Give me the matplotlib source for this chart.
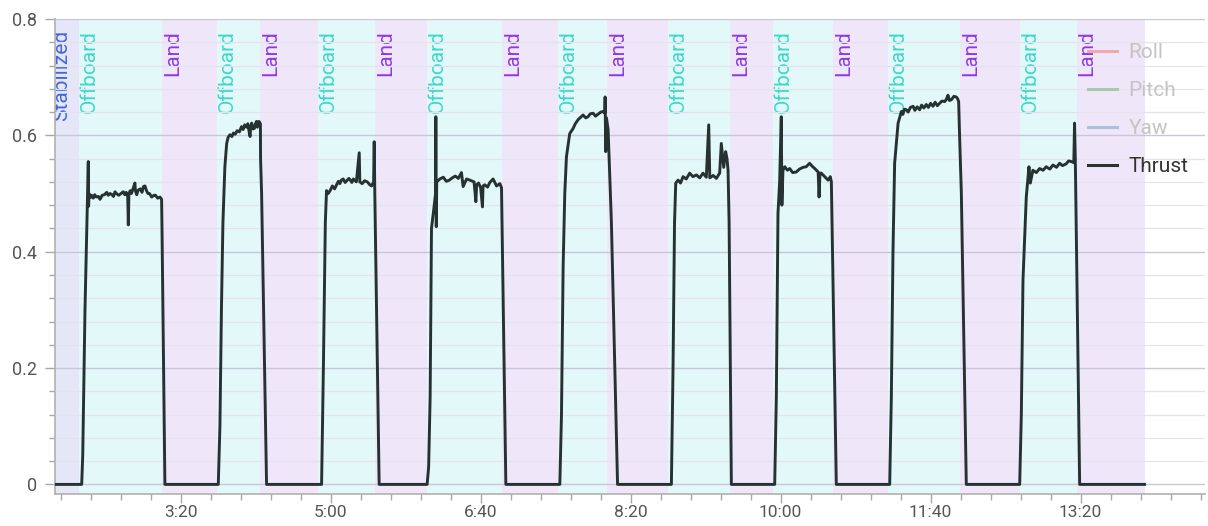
import matplotlib
matplotlib.use("Agg")
import matplotlib.pyplot as plt
from matplotlib.lines import Line2D
from matplotlib.ticker import FuncFormatter, MultipleLocator

plt.rcParams["font.family"] = ["Roboto", "DejaVu Sans"]

# x limits in seconds of log time
T_MIN = 116
T_MAX = 883
LOG_END = 842.7

# flight mode changes (start time, name)
mode_starts = [100, 132, 187.3, 224, 252.7, 291.3, 329.3, 364, 414, 451.3,
               484, 524.7, 566, 594.7, 634.7, 671.3, 719.3, 759.3, 797.3]
mode_names = ["Stabilized", "Offboard", "Land", "Offboard", "Land", "Offboard",
              "Land", "Offboard", "Land", "Offboard", "Land", "Offboard", "Land",
              "Offboard", "Land", "Offboard", "Land", "Offboard", "Land"]

# thrust, one list per offboard flight (seconds, normalised thrust)
flight1_t = [133.8, 134.5, 136.0, 137.6, 138.2, 138.4, 138.7, 139.5, 140.4, 141.5, 142.5,
             143.5, 145.0, 146.0, 147.5, 149.0, 150.5, 151.5, 152.7, 154.0, 155.0, 156.0,
             157.0, 158.5, 160.0, 161.5, 162.5, 163.5, 164.5, 164.9, 165.3, 166.2, 167.0,
             168.0, 169.3, 169.6, 170.5, 171.5, 173.0, 174.0, 175.0, 176.0, 177.0, 178.0,
             179.0, 180.5, 182.0, 183.0, 184.5, 186.0, 187.1, 187.4, 189.3]
flight1_v = [0, 0.05, 0.30, 0.49, 0.555, 0.478, 0.50, 0.493, 0.497, 0.492, 0.498,
             0.494, 0.495, 0.49, 0.497, 0.498, 0.502, 0.497, 0.50, 0.498, 0.495, 0.503,
             0.50, 0.497, 0.50, 0.503, 0.498, 0.502, 0.495, 0.446, 0.50, 0.505, 0.50,
             0.508, 0.518, 0.505, 0.498, 0.506, 0.508, 0.502, 0.512, 0.513, 0.505, 0.50,
             0.50, 0.494, 0.497, 0.497, 0.492, 0.494, 0.49, 0.433, 0]

flight2_t = [224.9, 226.0, 227.0, 228.0, 229.3, 230.5, 231.5, 232.7, 234.0, 235.0, 236.2,
             237.5, 239.0, 240.4, 241.5, 242.5, 243.7, 244.6, 245.5, 246.1, 246.5, 247.2,
             248.1, 249.0, 249.7, 250.4, 251.0, 251.5, 252.0, 252.5, 253.0, 253.1, 253.8,
             257.1]
flight2_v = [0, 0.10, 0.30, 0.45, 0.546, 0.586, 0.597, 0.601, 0.598, 0.604, 0.602,
             0.608, 0.606, 0.615, 0.61, 0.618, 0.614, 0.62, 0.606, 0.598, 0.615, 0.621,
             0.611, 0.612, 0.62, 0.624, 0.614, 0.618, 0.624, 0.622, 0.62, 0.56, 0.50,
             0]

flight3_t = [293.8, 295.0, 296.3, 297.1, 298.2, 299.3, 301.0, 302.5, 303.8, 305.0, 306.0,
             307.0, 308.2, 309.5, 310.6, 312.0, 313.0, 314.0, 315.0, 317.0, 318.9, 319.3,
             320.9, 322.5, 324.3, 326.0, 327.1, 328.5, 328.9, 329.3, 332.2]
flight3_v = [0, 0.20, 0.45, 0.505, 0.50, 0.504, 0.513, 0.508, 0.515, 0.521, 0.517,
             0.523, 0.525, 0.519, 0.522, 0.526, 0.523, 0.519, 0.525, 0.52, 0.57, 0.52,
             0.517, 0.522, 0.52, 0.515, 0.513, 0.52, 0.589, 0.50, 0]

flight4_t = [364.2, 365.2, 366.2, 367.1, 368.5, 369.8, 370.0, 370.3, 370.6, 372.7, 375.0,
             377.0, 379.0, 381.0, 383.0, 385.0, 387.1, 388.2, 390.5, 392.7, 395.5, 396.7,
             397.2, 398.5, 399.9, 401.1, 401.5, 402.6, 404.5, 406.0, 408.2, 410.5, 412.7,
             413.8, 416.7]
flight4_v = [0, 0.03, 0.15, 0.44, 0.47, 0.50, 0.632, 0.443, 0.52, 0.525, 0.528,
             0.521, 0.523, 0.527, 0.53, 0.526, 0.536, 0.512, 0.525, 0.523, 0.52, 0.486,
             0.515, 0.518, 0.51, 0.477, 0.513, 0.515, 0.511, 0.519, 0.525, 0.513, 0.517,
             0.51, 0]

flight5_t = [452.7, 453.8, 454.9, 456.0, 457.1, 459.3, 461.6, 463.0, 464.9, 466.5, 468.2,
             470.0, 471.5, 473.0, 474.9, 476.5, 478.0, 480.0, 481.6, 482.7, 482.9, 483.3,
             483.8, 484.9, 487.1, 491.2]
flight5_v = [0, 0.12, 0.374, 0.50, 0.563, 0.603, 0.612, 0.62, 0.627, 0.631, 0.635,
             0.63, 0.632, 0.637, 0.638, 0.633, 0.636, 0.64, 0.641, 0.638, 0.666, 0.572,
             0.63, 0.61, 0.45, 0]

flight6_t = [527.1, 528.2, 529.2, 530.0, 531.6, 533.2, 534.9, 537.0, 539.3, 541.5, 543.8,
             546.0, 548.2, 550.4, 552.0, 552.7, 555.0, 557.1, 559.3, 560.4, 562.0, 563.3,
             564.2, 564.9, 565.6, 567.1]
flight6_v = [0, 0.20, 0.45, 0.518, 0.523, 0.518, 0.529, 0.525, 0.535, 0.529, 0.532,
             0.527, 0.535, 0.528, 0.618, 0.527, 0.531, 0.526, 0.535, 0.586, 0.545, 0.572,
             0.56, 0.54, 0.45, 0]

flight7_t = [596.0, 597.1, 598.2, 599.3, 600.4, 600.8, 601.5, 602.7, 604.5, 606.0, 608.0,
             610.4, 612.5, 614.9, 617.0, 619.3, 621.0, 622.7, 625.0, 625.6, 626.2, 627.1,
             629.3, 631.6, 633.1, 633.8, 637.1]
flight7_v = [0, 0.15, 0.466, 0.52, 0.632, 0.48, 0.54, 0.546, 0.54, 0.543, 0.536,
             0.537, 0.542, 0.545, 0.546, 0.552, 0.547, 0.543, 0.537, 0.494, 0.535, 0.535,
             0.529, 0.523, 0.529, 0.52, 0]

flight8_t = [672.7, 673.8, 674.9, 676.0, 678.3, 680.5, 681.5, 682.5, 683.8, 685.0, 686.5,
             688.3, 689.5, 691.0, 692.7, 694.0, 695.5, 697.1, 698.5, 700.0, 701.6, 703.0,
             704.5, 706.0, 707.5, 709.4, 710.5, 711.6, 712.5, 713.8, 715.5, 717.1, 718.0,
             718.7, 719.4, 720.5, 723.8]
flight8_v = [0, 0.15, 0.40, 0.552, 0.621, 0.641, 0.636, 0.645, 0.644, 0.64, 0.648,
             0.65, 0.643, 0.649, 0.644, 0.652, 0.647, 0.653, 0.648, 0.655, 0.65, 0.657,
             0.651, 0.655, 0.659, 0.658, 0.662, 0.669, 0.66, 0.661, 0.667, 0.666, 0.663,
             0.658, 0.592, 0.50, 0]

flight9_t = [759.4, 760.5, 761.6, 763.8, 765.6, 766.5, 768.2, 770.5, 772.7, 775.0, 777.1,
             779.5, 781.6, 784.0, 786.0, 788.0, 790.4, 792.0, 793.8, 795.5, 796.0, 796.5,
             799.4]
flight9_v = [0, 0.12, 0.351, 0.494, 0.546, 0.518, 0.54, 0.536, 0.543, 0.54, 0.546,
             0.542, 0.549, 0.545, 0.552, 0.548, 0.551, 0.556, 0.555, 0.553, 0.621, 0.56,
             0]

flights = [
    (flight1_t, flight1_v), (flight2_t, flight2_v), (flight3_t, flight3_v),
    (flight4_t, flight4_v), (flight5_t, flight5_v), (flight6_t, flight6_v),
    (flight7_t, flight7_v), (flight8_t, flight8_v), (flight9_t, flight9_v),
]

legend_labels = ["Roll", "Pitch", "Yaw", "Thrust"]
legend_line_colors = ["#f2a7ad", "#a9c9a9", "#abc0d9", "#2b3333"]
legend_text_colors = ["#c4c4c4", "#c4c4c4", "#c4c4c4", "#333333"]

mode_bg = {"Stabilized": "#e6e6f9", "Offboard": "#e3f8f8", "Land": "#f0e6f9"}
mode_fg = {"Stabilized": "#4466dd", "Offboard": "#3cd8cc", "Land": "#8c3be0"}

t_all = [110.0]
v_all = [0.0]
for ft, fv in flights:
    t_all += ft
    v_all += fv
t_all.append(LOG_END)
v_all.append(0.0)

fig = plt.figure(figsize=(12.08, 5.26), dpi=100, facecolor="white")
ax = fig.add_axes([55 / 1208, 1 - 494 / 526, 1150 / 1208, 475 / 526])
ax.set_facecolor("white")

ends = mode_starts[1:] + [LOG_END]
for start, end, name in zip(mode_starts, ends, mode_names):
    ax.axvspan(start, end, color=mode_bg[name], lw=0, zorder=0)
    label_x = max(start, T_MIN - 2.5) + 0.8
    ax.text(label_x, 0.781, name, rotation=90, ha="left", va="top",
            color=mode_fg[name], fontsize=15, clip_on=True, zorder=2)

ax.plot(t_all, v_all, color="#263232", lw=2.1, solid_joinstyle="round", zorder=3)

ax.set_xlim(T_MIN, T_MAX)
ax.set_ylim(-0.0165, 0.8)

ax.xaxis.set_major_locator(MultipleLocator(100))
ax.xaxis.set_minor_locator(MultipleLocator(20))
ax.xaxis.set_major_formatter(FuncFormatter(lambda s, _: f"{int(s) // 60}:{int(s) % 60:02d}"))
ax.yaxis.set_major_locator(MultipleLocator(0.2))
ax.yaxis.set_minor_locator(MultipleLocator(0.04))
ax.yaxis.set_major_formatter(FuncFormatter(lambda v, _: "0" if abs(v) < 1e-9 else f"{v:.1f}"))

ax.grid(True, which="major", axis="y", color="#c9c6dc", lw=1.0, zorder=1)
ax.grid(True, which="minor", axis="y", color="#e4e2ec", lw=0.9, zorder=1)
ax.set_axisbelow(False)

ax.tick_params(axis="both", which="major", length=7, width=1, color="#a8a8a8",
               labelcolor="#555555", labelsize=13)
ax.tick_params(axis="both", which="minor", length=4.5, width=1, color="#a8a8a8")
ax.tick_params(axis="x", which="major", length=6.5, pad=1.5, labelsize=12.5)
ax.tick_params(axis="y", which="major", pad=6)

for side in ["top", "right"]:
    ax.spines[side].set_visible(False)
for side in ["left", "bottom"]:
    ax.spines[side].set_color("#b0b0b0")
    ax.spines[side].set_linewidth(1.2)

handles = [Line2D([], [], color=c, lw=2.2) for c in legend_line_colors]
leg = ax.legend(handles, legend_labels, loc="upper left",
                bbox_to_anchor=(1088 / 1208, 1 - 43 / 526), bbox_transform=fig.transFigure,
                frameon=False, fontsize=15, handlelength=1.4, handletextpad=0.55,
                labelspacing=0.92, borderpad=0, borderaxespad=0)
for text, col in zip(leg.get_texts(), legend_text_colors):
    text.set_color(col)
leg.set_zorder(5)

fig.savefig("out.png", dpi=100)
